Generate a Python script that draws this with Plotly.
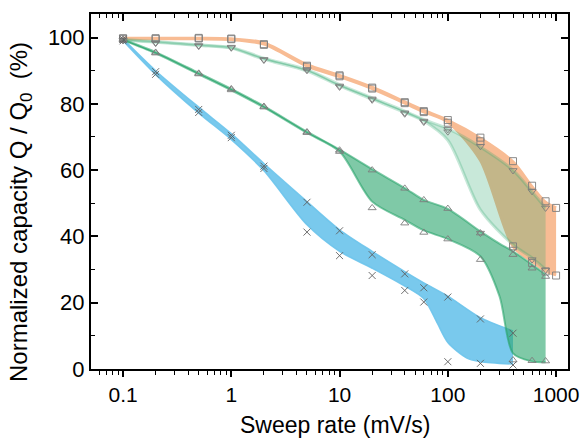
import plotly.graph_objects as go

# ---------------- data ----------------
rates = [0.1, 0.2, 0.5, 1, 2, 5, 10, 20, 40, 60, 100, 200, 400, 600, 800, 1000]

# markers: square series (orange band)
sq_hi = [99.8, 99.8, 99.9, 99.7, 98.0, 91.5, 88.6, 84.9, 80.5, 77.8, 75.1, 69.8, 62.7, 55.3, 50.6, 48.6]
sq_lo = [99.6, 99.6, 99.7, 99.5, 97.8, 91.2, 88.3, 84.6, 80.2, 77.5, 74.3, 68.7, 37.0, 32.0, 29.4, 28.2]
# markers: down-triangle series (light green band), up to 800
dt_hi = [99.3, 98.5, 97.6, 97.1, 93.4, 90.4, 85.4, 81.5, 77.3, 74.8, 72.3, 67.2, 59.9, 53.6, 48.6]
dt_lo = [99.1, 98.3, 97.4, 96.9, 93.2, 90.1, 85.1, 81.2, 77.0, 74.5, 71.6, 41.0, 36.2, 33.0, 29.9]
# markers: up-triangle series (green band), up to 800
ut_hi = [99.5, 95.5, 89.2, 84.5, 79.2, 71.5, 66.0, 60.0, 54.5, 51.0, 48.4, 41.0, 34.5, 30.4, 27.9]
ut_lo = [99.3, 95.3, 89.0, 84.2, 79.0, 71.3, 65.6, 48.6, 44.0, 41.2, 39.2, 33.0, 2.7, 2.5, 2.4]
# markers: cross series (blue band), up to 400
xx_hi = [99.5, 89.7, 78.3, 70.5, 61.2, 50.3, 41.7, 34.5, 28.7, 24.5, 21.7, 15.1, 10.8]
xx_lo = [99.0, 88.9, 77.4, 69.8, 60.5, 41.3, 34.2, 28.2, 23.7, 20.2, 2.2, 1.7, 1.2]

# smoothed band edges
band_o_x = [0.1, 0.2, 0.5, 1, 2, 5, 10, 20, 40, 60, 100, 200, 400, 600, 800, 1000]
band_o_hi = [99.8, 99.8, 99.8, 99.6, 98.4, 91.8, 88.6, 85.0, 80.6, 78.0, 75.0, 69.6, 62.5, 55.0, 50.3, 48.6]
band_o_lo = [99.6, 99.6, 99.6, 99.4, 98.0, 91.4, 88.2, 84.6, 80.2, 77.6, 74.5, 63.0, 37.0, 32.5, 29.5, 28.4]

band_lg_x = [0.1, 0.2, 0.5, 1, 2, 5, 10, 20, 40, 60, 100, 200, 400, 600, 800]
band_lg_hi = [99.4, 98.8, 97.8, 97.0, 93.8, 90.3, 85.8, 81.8, 77.8, 75.2, 72.5, 67.0, 60.0, 53.5, 48.6]
band_lg_lo = [99.2, 98.6, 97.6, 96.8, 93.4, 89.9, 85.4, 81.4, 77.4, 74.8, 69.0, 48.0, 37.5, 33.5, 30.0]

band_g_x = [0.1, 0.2, 0.5, 1, 2, 5, 10, 20, 40, 60, 100, 200, 300, 400, 600, 800]
band_g_hi = [99.4, 95.6, 89.3, 84.5, 79.3, 71.6, 66.2, 60.3, 54.6, 51.0, 48.3, 41.5, 37.8, 35.5, 31.5, 28.5]
band_g_lo = [99.2, 95.2, 88.9, 84.1, 78.9, 71.2, 65.6, 50.5, 45.0, 41.8, 39.2, 34.0, 22.0, 4.7, 2.3, 2.0]

band_b_hi_x = [0.1, 0.2, 0.5, 1, 2, 5, 10, 20, 40, 60, 100, 200, 400]
band_b_hi = [99.6, 90.0, 79.0, 71.0, 62.0, 50.5, 42.0, 35.5, 29.4, 26.0, 22.0, 15.5, 11.5]
band_b_lo_x = [0.1, 0.2, 0.5, 1, 2, 5, 10, 20, 40, 60, 80, 100, 150, 200, 400]
band_b_lo = [99.0, 88.8, 77.2, 69.2, 59.8, 43.5, 35.5, 30.4, 25.0, 21.2, 13.8, 8.0, 3.3, 2.2, 1.5]

x_tick_vals = [0.1, 1, 10, 100, 1000]
x_tick_text = ["0.1", "1", "10", "100", "1000"]
y_tick_vals = [0, 20, 40, 60, 80, 100]

# ---------------- styles ----------------
C_BLUE = "rgba(110,196,236,0.92)"
C_ORANGE = "rgb(248,188,148)"
C_LGREEN = "rgba(42,165,108,0.26)"
C_GREEN = "rgba(42,165,108,0.6)"
FONT = "Liberation Sans, Arial, sans-serif"

fig = go.Figure()


def add_band(xlo, lo, xhi, hi, color, lw):
    fig.add_trace(go.Scatter(x=xlo, y=lo, mode="lines",
                             line=dict(color=color, width=lw, shape="spline", smoothing=0.8),
                             hoverinfo="skip", showlegend=False))
    fig.add_trace(go.Scatter(x=xhi, y=hi, mode="lines", fill="tonexty", fillcolor=color,
                             line=dict(color=color, width=lw, shape="spline", smoothing=0.8),
                             hoverinfo="skip", showlegend=False))


add_band(band_b_lo_x, band_b_lo, band_b_hi_x, band_b_hi, C_BLUE, 1.5)
add_band(band_o_x, band_o_lo, band_o_x, band_o_hi, C_ORANGE, 3)
add_band(band_lg_x, band_lg_lo, band_lg_x, band_lg_hi, C_LGREEN, 3)
add_band(band_g_x, band_g_lo, band_g_x, band_g_hi, C_GREEN, 2)


def add_markers(xs, ys, symbol, color, size=7):
    fig.add_trace(go.Scatter(x=xs, y=ys, mode="markers",
                             marker=dict(symbol=symbol, size=size, color=color,
                                         line=dict(color=color, width=0.9)),
                             hoverinfo="skip", showlegend=False))


GREY = "rgb(125,125,125)"
add_markers(rates, sq_hi, "square-open", GREY)
add_markers(rates, sq_lo, "square-open", GREY)
add_markers(rates[:15], dt_hi, "triangle-down-open", GREY)
add_markers(rates[:15], dt_lo, "triangle-down-open", GREY)
add_markers(rates[:15], ut_hi, "triangle-up-open", GREY)
add_markers(rates[:15], ut_lo, "triangle-up-open", GREY)
add_markers(rates[:13], xx_hi, "x-thin-open", "rgb(95,95,95)", 7)
add_markers(rates[:13], xx_lo, "x-thin-open", "rgb(95,95,95)", 7)

# invisible trace so the top (mirror) axis is drawn
fig.add_trace(go.Scatter(x=[1], y=[-50], xaxis="x2", mode="markers",
                         marker=dict(opacity=0), showlegend=False, hoverinfo="skip"))

xr = [-1.296, 3.11]
fig.update_layout(
    width=580, height=443,
    margin=dict(l=91, r=12, t=14, b=74),
    paper_bgcolor="white", plot_bgcolor="white",
    font=dict(family=FONT, size=21, color="black"),
    showlegend=False,
    xaxis=dict(type="log", range=xr, showline=True, linecolor="black", linewidth=2,
               mirror=True, ticks="outside", ticklen=6, tickwidth=1.5, tickcolor="black",
               tickvals=x_tick_vals, ticktext=x_tick_text, showgrid=False, zeroline=False,
               automargin=False, ticklabeloverflow="allow",
               minor=dict(ticks="outside", ticklen=3.5, tickwidth=1.2, tickcolor="black",
                          dtick="D1", showgrid=False)),
    xaxis2=dict(type="log", range=xr, overlaying="x", side="top", showline=False,
                ticks="inside", ticklen=7, tickwidth=1.5, tickcolor="black",
                tickvals=x_tick_vals, showticklabels=False, showgrid=False, zeroline=False,
                automargin=False,
                minor=dict(ticks="inside", ticklen=4, tickwidth=1.2, tickcolor="black",
                           dtick="D1", showgrid=False)),
    yaxis=dict(range=[0, 107.1], showline=True, linecolor="black", linewidth=2,
               mirror="ticks", ticks="inside", ticklen=7, tickwidth=1.5, tickcolor="black",
               tickvals=y_tick_vals, showgrid=False, zeroline=False, automargin=False,
               tickfont=dict(size=22),
               minor=dict(ticks="inside", ticklen=4, tickwidth=1.2, tickcolor="black",
                          dtick=10, showgrid=False)),
    annotations=[
        dict(text="Sweep rate (mV/s)", xref="paper", yref="paper",
             x=(335 - 91) / 477, y=-(425 - 369) / 355, xanchor="center", yanchor="middle",
             showarrow=False, font=dict(size=23)),
        dict(text="Normalized capacity Q / Q<sub>0</sub>  (%)", xref="paper", yref="paper",
             x=-(91 - 21) / 477, y=(369 - 212) / 355, xanchor="center", yanchor="middle",
             textangle=-90, showarrow=False, font=dict(size=24)),
    ],
)

fig.write_html("out.html")
